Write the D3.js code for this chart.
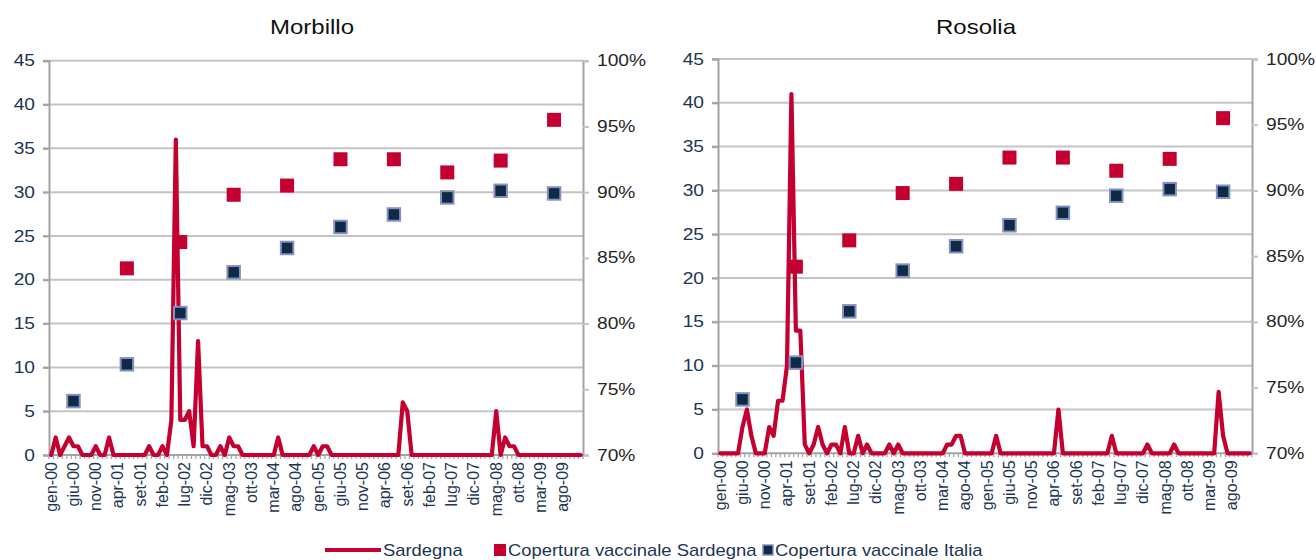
<!DOCTYPE html>
<html>
<head>
<meta charset="utf-8">
<script src="https://cdn.jsdelivr.net/npm/d3@7"></script>
<style>
  html, body { margin: 0; padding: 0; background: #fff; }
  svg { display: block; font-family: "Liberation Sans", Arial, sans-serif; }
</style>
</head>
<body>
<svg id="chart" width="1316" height="560"></svg>
<script>
// ---------- DATA ----------
const monthNames = ["gen","feb","mar","apr","mag","giu","lug","ago","set","ott","nov","dic"];
const yearLabels = ["00","01","02","03","04","05","06","07","08","09"];
const categories = [];
yearLabels.forEach(y => monthNames.forEach(m => categories.push(m + "-" + y)));

const tickLabels = ["gen-00","giu-00","nov-00","apr-01","set-01","feb-02","lug-02","dic-02",
  "mag-03","ott-03","mar-04","ago-04","gen-05","giu-05","nov-05","apr-06","set-06","feb-07",
  "lug-07","dic-07","mag-08","ott-08","mar-09","ago-09"];

// Monthly cases, Sardegna (gen-00 ... dic-09)
const morbilloCases = [
  0,2,0,1,2,1,1,0,0,0,1,0,
  0,2,0,0,0,0,0,0,0,0,1,0,
  0,1,0,4,36,4,4,5,1,13,1,1,
  0,0,1,0,2,1,1,0,0,0,0,0,
  0,0,0,2,0,0,0,0,0,0,0,1,
  0,1,1,0,0,0,0,0,0,0,0,0,
  0,0,0,0,0,0,0,6,5,0,0,0,
  0,0,0,0,0,0,0,0,0,0,0,0,
  0,0,0,0,5,0,2,1,1,0,0,0,
  0,0,0,0,0,0,0,0,0,0,0,0
];
const rosoliaCases = [
  0,0,0,0,0,3,5,2,0,0,0,3,
  2,6,6,10,41,14,14,1,0,1,3,1,
  0,1,1,0,3,0,0,2,0,1,0,0,
  0,0,1,0,1,0,0,0,0,0,0,0,
  0,0,0,1,1,2,2,0,0,0,0,0,
  0,0,2,0,0,0,0,0,0,0,0,0,
  0,0,0,0,5,0,0,0,0,0,0,0,
  0,0,0,0,2,0,0,0,0,0,0,0,
  1,0,0,0,0,0,1,0,0,0,0,0,
  0,0,0,0,7,2,0,0,0,0,0,0
];

// Vaccination coverage (%), plotted in June of each year
const coverageSardegnaDates = ["giu-01","giu-02","giu-03","giu-04","giu-05","giu-06","giu-07","giu-08","giu-09"];
const coverageSardegna = [84.2, 86.2, 89.8, 90.5, 92.5, 92.5, 91.5, 92.4, 95.5];
const coverageItaliaDates = ["giu-00","giu-01","giu-02","giu-03","giu-04","giu-05","giu-06","giu-07","giu-08","giu-09"];
const coverageItalia = [74.1, 76.9, 80.8, 83.9, 85.75, 87.35, 88.3, 89.6, 90.1, 89.9];

const leftTicks = [0,5,10,15,20,25,30,35,40,45];
const rightTicks = [70,75,80,85,90,95,100];

const seriesNames = ["Sardegna", "Copertura vaccinale Sardegna", "Copertura vaccinale Italia"];

// ---------- STYLE ----------
const RED = "#C3002F";
const NAVY = "#0E2A44";
const NAVY_STROKE = "#8591C4";
const GRID = "#C4C4C4";
const AXIS = "#A3A3A3";
const LEFT_TXT = "#1C3553";
const RIGHT_TXT = "#262626";
const STRETCH = 1.2;
const LEGEND_STRETCH = 1.15;

const svg = d3.select("#chart");

function stretchText(sel, k) {
  sel.each(function () {
    const t = d3.select(this);
    const x = +t.attr("x") || 0;
    t.attr("x", x / k).attr("transform", `scale(${k},1)`);
  });
}

function drawPanel(opts) {
  const { left, right, top, bottom, title, titleX, cases } = opts;
  const g = svg.append("g");

  const x = d3.scaleBand().domain(categories).range([left, right]).padding(0);
  const yL = d3.scaleLinear().domain([0, 45]).range([bottom, top]);
  const yR = d3.scaleLinear().domain([70, 100]).range([bottom, top]);
  const cx = c => x(c) + x.bandwidth() / 2;

  // title
  g.append("text").attr("x", titleX / STRETCH).attr("y", 34)
    .attr("transform", `scale(${STRETCH},1)`)
    .attr("text-anchor", "middle").attr("font-size", 20).attr("fill", "#111")
    .text(title);

  // gridlines
  g.append("g").selectAll("line").data(leftTicks.filter(d => d > 0)).join("line")
    .attr("x1", left - 6).attr("x2", right)
    .attr("y1", d => yL(d)).attr("y2", d => yL(d))
    .attr("stroke", GRID).attr("stroke-width", 2);

  // left axis
  const la = g.append("g").attr("transform", `translate(${left},0)`)
    .call(d3.axisLeft(yL).tickValues(leftTicks).tickSize(6).tickPadding(8).tickFormat(d3.format("d")));
  la.select(".domain").attr("stroke", AXIS).attr("stroke-width", 2);
  la.selectAll(".tick line").attr("stroke", AXIS).attr("stroke-width", 2);
  la.selectAll("text").attr("font-size", 16).attr("fill", LEFT_TXT)
    .attr("font-family", "Liberation Sans, Arial, sans-serif");
  stretchText(la.selectAll(".tick text"), STRETCH);

  // right axis
  const ra = g.append("g").attr("transform", `translate(${right},0)`)
    .call(d3.axisRight(yR).tickValues(rightTicks).tickSize(6).tickPadding(8).tickFormat(d => d + "%"));
  ra.select(".domain").attr("stroke", AXIS).attr("stroke-width", 2);
  ra.selectAll(".tick line").attr("stroke", GRID).attr("stroke-width", 2);
  ra.selectAll("text").attr("font-size", 16).attr("fill", RIGHT_TXT)
    .attr("font-family", "Liberation Sans, Arial, sans-serif");
  stretchText(ra.selectAll(".tick text"), STRETCH);

  // x axis baseline and minor ticks
  g.append("g").selectAll("line").data(categories.concat(["_end"])).join("line")
    .attr("x1", (d, i) => i < categories.length ? x(d) : right)
    .attr("x2", (d, i) => i < categories.length ? x(d) : right)
    .attr("y1", bottom).attr("y2", bottom + 4)
    .attr("stroke", AXIS).attr("stroke-width", 1.2);
  g.append("line").attr("x1", left).attr("x2", right).attr("y1", bottom).attr("y2", bottom)
    .attr("stroke", AXIS).attr("stroke-width", 2);

  // x tick labels
  g.append("g").selectAll("text").data(tickLabels).join("text")
    .attr("transform", d => `translate(${cx(d) + 5.5},${bottom + 7}) rotate(-90)`)
    .attr("text-anchor", "end").attr("font-size", 16).attr("fill", LEFT_TXT)
    .text(d => d);

  // cases line
  const line = d3.line().x((d, i) => cx(categories[i])).y(d => yL(d));
  g.append("path").datum(cases).attr("d", line)
    .attr("fill", "none").attr("stroke", RED).attr("stroke-width", 4.2)
    .attr("stroke-linejoin", "round").attr("stroke-linecap", "round");

  // coverage Sardegna
  const sR = 14;
  g.append("g").selectAll("rect").data(coverageSardegna).join("rect")
    .attr("x", (d, i) => cx(coverageSardegnaDates[i]) - sR / 2)
    .attr("y", d => yR(d) - sR / 2)
    .attr("width", sR).attr("height", sR).attr("fill", RED);

  // coverage Italia
  const sI = 12.5;
  g.append("g").selectAll("rect").data(coverageItalia).join("rect")
    .attr("x", (d, i) => cx(coverageItaliaDates[i]) - sI / 2)
    .attr("y", d => yR(d) - sI / 2)
    .attr("width", sI).attr("height", sI).attr("fill", NAVY)
    .attr("stroke", NAVY_STROKE).attr("stroke-width", 2);
}

drawPanel({ left: 49, right: 583, top: 60.7, bottom: 455, title: "Morbillo", titleX: 312, cases: morbilloCases });
drawPanel({ left: 718, right: 1252, top: 59, bottom: 453.3, title: "Rosolia", titleX: 976, cases: rosoliaCases });

// ---------- LEGEND ----------
const lg = svg.append("g");
const ly = 550;
function legendText(xPos, txt) {
  lg.append("text").attr("x", xPos / LEGEND_STRETCH).attr("y", ly + 6)
    .attr("transform", `scale(${LEGEND_STRETCH},1)`)
    .attr("font-size", 16).attr("fill", LEFT_TXT).text(txt);
}
lg.append("line").attr("x1", 325).attr("x2", 381).attr("y1", ly).attr("y2", ly)
  .attr("stroke", RED).attr("stroke-width", 4);
legendText(383, seriesNames[0]);
lg.append("rect").attr("x", 494).attr("y", ly - 6).attr("width", 12).attr("height", 12).attr("fill", RED);
legendText(508, seriesNames[1]);
lg.append("rect").attr("x", 763).attr("y", ly - 5).attr("width", 10).attr("height", 10)
  .attr("fill", NAVY).attr("stroke", NAVY_STROKE).attr("stroke-width", 1.5);
legendText(775, seriesNames[2]);
</script>
</body>
</html>
